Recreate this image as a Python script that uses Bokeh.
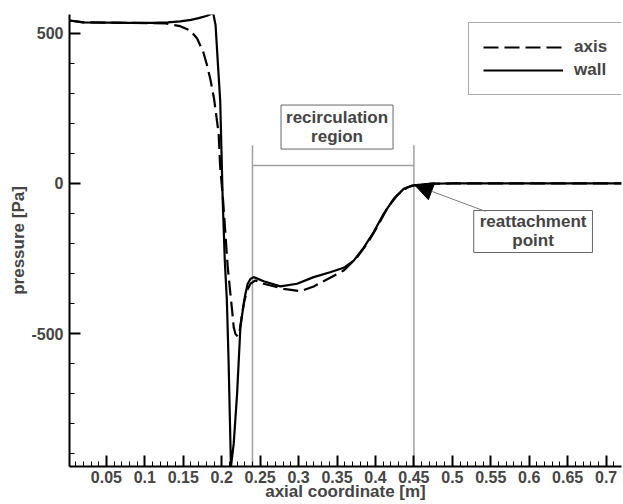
from bokeh.plotting import figure
from bokeh.models import (FixedTicker, CustomJSTickFormatter, Legend, LegendItem,
                          Label, Arrow, NormalHead, Range1d)
from bokeh.embed import file_html
from bokeh.resources import INLINE

# ---- data ----
wall_x = [0.002, 0.02, 0.05, 0.08, 0.11, 0.13, 0.146, 0.16, 0.17, 0.18, 0.186, 0.189,
          0.192, 0.195, 0.198, 0.2013, 0.204, 0.2067, 0.209, 0.212,
          0.2156, 0.220, 0.2243, 0.2286, 0.2308, 0.2338, 0.2373, 0.2416,
          0.2546, 0.2763, 0.298, 0.3196, 0.341, 0.3587, 0.3717, 0.3847, 0.3977,
          0.4107, 0.4237, 0.4367, 0.4476, 0.471, 0.5, 0.55, 0.6, 0.65, 0.7, 0.72]
wall_y = [543, 537, 536, 535, 535, 537, 540, 545, 551, 558, 565, 567,
          527, 400, 277, -57, -257, -390, -600, -943,
          -867, -700, -479, -401, -368, -334, -318, -312,
          -326, -343, -334, -312, -296, -281, -257, -214, -162,
          -101, -51, -18, -7, -1, 0, 0, 0, 0, 0, 0]

axis_x = [0.002, 0.02, 0.05, 0.08, 0.11, 0.127, 0.146, 0.159, 0.168, 0.176, 0.181, 0.185,
          0.190, 0.196, 0.198, 0.2018, 0.2048, 0.2078, 0.2113, 0.2135, 0.2156, 0.2178,
          0.2208, 0.2234, 0.2265, 0.2295, 0.233, 0.2373, 0.2438,
          0.2546, 0.2806, 0.3023, 0.3196, 0.341, 0.3587, 0.376, 0.389, 0.402,
          0.415, 0.428, 0.441, 0.450, 0.471, 0.5, 0.55, 0.6, 0.65, 0.7, 0.72]
axis_y = [543, 537, 536, 535, 534, 533, 524, 510, 483, 438, 393, 350,
          283, 166, 54, -57, -168, -279, -368, -423, -479, -501,
          -510, -490, -434, -390, -357, -334, -323,
          -334, -351, -359, -343, -314, -290, -246, -201, -146,
          -84, -40, -14, -6, -1, 0, 0, 0, 0, 0, 0]

x_ticks = [0.05, 0.1, 0.15, 0.2, 0.25, 0.3, 0.35, 0.4, 0.45, 0.5, 0.55, 0.6, 0.65, 0.7]
y_ticks = [-500, 0, 500]

recirc_start = 0.24
recirc_end = 0.45
recirc_bar_y = 60
recirc_top_y = 127
reattach_x = 0.451
reattach_y = -5

x_min, x_max = 0.002, 0.72
y_min, y_max = -943, 563

FONT = "Liberation Sans"

p = figure(width=623, height=504, output_backend="svg", toolbar_location=None,
           x_range=Range1d(x_min, x_max), y_range=Range1d(y_min, y_max),
           min_border_left=69, min_border_right=2, min_border_top=14, min_border_bottom=38)
p.outline_line_color = None
p.grid.visible = False
p.background_fill_color = "white"

# recirculation markers
p.segment(x0=[recirc_start, recirc_end], y0=[y_min, y_min],
          x1=[recirc_start, recirc_end], y1=[recirc_top_y, recirc_top_y],
          line_color="#a0a0a0", line_width=1.5)
p.segment(x0=[recirc_start], y0=[recirc_bar_y], x1=[recirc_end], y1=[recirc_bar_y],
          line_color="#a0a0a0", line_width=1.5)

r_axis = p.line(axis_x, axis_y, line_color="black", line_width=2.2, line_dash="15 6")
r_wall = p.line(wall_x, wall_y, line_color="black", line_width=2.2)

# axes
for ax in (p.xaxis[0], p.yaxis[0]):
    ax.axis_line_width = 2
    ax.major_tick_line_width = 2
    ax.minor_tick_line_width = 1
    ax.major_tick_in = 11
    ax.major_tick_out = 0
    ax.minor_tick_in = 5
    ax.minor_tick_out = 0
    ax.major_label_text_font = FONT
    ax.major_label_text_font_style = "bold"
    ax.major_label_text_font_size = "16px"
    ax.axis_label_text_font = FONT
    ax.axis_label_text_font_style = "bold"
    ax.axis_label_text_font_size = "17px"

p.xaxis.major_label_standoff = 4
p.yaxis.major_label_standoff = 6
p.xaxis.ticker = FixedTicker(ticks=x_ticks, minor_ticks=[round(0.01 * k, 2) for k in range(1, 72)])
p.xaxis.formatter = CustomJSTickFormatter(code="return (Math.round(tick*100)/100).toString();")
p.yaxis.ticker = FixedTicker(ticks=y_ticks, minor_ticks=list(range(-900, 600, 100)))
p.yaxis.formatter = CustomJSTickFormatter(code="return Math.round(tick).toString();")
p.xaxis.axis_label = "axial coordinate [m]"
p.yaxis.axis_label = "pressure [Pa]"
p.xaxis.axis_label_standoff = -4
p.yaxis.axis_label_standoff = 0

legend = Legend(items=[LegendItem(label="axis", renderers=[r_axis]),
                       LegendItem(label="wall", renderers=[r_wall])],
                location=(399, 371), padding=14, spacing=3, glyph_width=80, glyph_height=20,
                label_height=20, label_standoff=11, margin=0,
                label_text_font=FONT, label_text_font_style="bold", label_text_font_size="17px",
                border_line_color="#555555", border_line_width=1, background_fill_alpha=1)
p.add_layout(legend, "center")

lab1 = Label(x=0.35, y=188, text="recirculation\nregion", text_align="center",
             text_baseline="middle", text_font=FONT, text_font_style="bold",
             text_font_size="17px", text_line_height=1.0,
             border_line_color="#666666", border_line_width=1,
             background_fill_color="white", padding=(5, 3))
p.add_layout(lab1)

lab2 = Label(x=0.605, y=-160, text="reattachment\npoint", text_align="center",
             text_baseline="middle", text_font=FONT, text_font_style="bold",
             text_font_size="17px", text_line_height=1.0,
             border_line_color="#666666", border_line_width=1,
             background_fill_color="white", padding=(6, 2))
p.add_layout(lab2)

p.add_layout(Arrow(end=NormalHead(size=18, fill_color="black", line_color="black"),
                   x_start=0.543, y_start=-93, x_end=reattach_x, y_end=reattach_y,
                   line_color="#777777", line_width=1))

open("out.html", "w").write(file_html(p, INLINE))
